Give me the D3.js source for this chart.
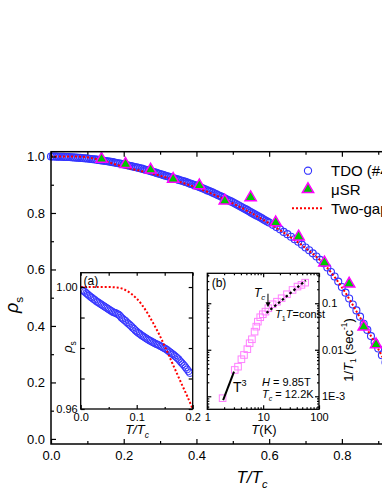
<!DOCTYPE html>
<html><head><meta charset="utf-8">
<script src="https://cdn.jsdelivr.net/npm/d3@7"></script>
<style>
html,body{margin:0;padding:0;background:#fff;}
svg{display:block;font-family:"Liberation Sans Narrow","Arial Narrow","Liberation Sans",Arial,sans-serif;}
</style></head><body><svg id="c" width="382" height="494"></svg>
<script>
// ---------------- DATA ----------------
// main panel: TDO superfluid density vs T/Tc
const tdoT = [0.00,0.01,0.02,0.03,0.04,0.05,0.06,0.07,0.08,0.09,
  0.10,0.11,0.12,0.13,0.14,0.15,0.16,0.17,0.18,0.19,
  0.20,0.21,0.22,0.23,0.24,0.25,0.26,0.27,0.28,0.29,
  0.30,0.31,0.32,0.33,0.34,0.35,0.36,0.37,0.38,0.39,
  0.40,0.41,0.42,0.43,0.44,0.45,0.46,0.47,0.48,0.49,
  0.50,0.51,0.52,0.53,0.54,0.55,0.56,0.57,0.58,0.59,
  0.60,0.61,0.62,0.63,0.64,0.65,0.66,0.67,0.68,0.69,
  0.70,0.71,0.72,0.73,0.74,0.75,0.76,0.77,0.78,0.79,
  0.80,0.81,0.82,0.83,0.84,0.85,0.86,0.87,0.88,0.89,
  0.90,0.91,0.92,0.93,0.94,0.95,0.96,0.97,0.98,0.99];
const tdoRho = [1.000,1.000,0.999,0.999,0.998,0.998,0.997,0.996,0.995,0.994,
  0.993,0.991,0.990,0.988,0.986,0.984,0.982,0.980,0.977,0.975,
  0.972,0.969,0.966,0.963,0.960,0.957,0.953,0.950,0.946,0.942,
  0.938,0.934,0.930,0.926,0.922,0.918,0.914,0.910,0.905,0.901,
  0.896,0.891,0.886,0.880,0.875,0.869,0.863,0.857,0.850,0.844,
  0.838,0.831,0.824,0.817,0.810,0.802,0.795,0.788,0.781,0.773,
  0.766,0.758,0.750,0.742,0.733,0.725,0.716,0.707,0.698,0.688,
  0.678,0.668,0.657,0.646,0.634,0.622,0.607,0.591,0.575,0.557,
  0.538,0.518,0.497,0.476,0.455,0.433,0.408,0.386,0.364,0.342,
  0.320,0.296,0.271,0.245,0.218,0.189,0.158,0.124,0.087,0.046];
// second (denser) low-T sweep of the TDO data
const tdoT2 = [0.005,0.015,0.025,0.035,0.045,0.055,0.065,0.075,0.085,0.095,
  0.105,0.115,0.125,0.135,0.145,0.155,0.165,0.175,0.185,0.195,
  0.205,0.215,0.225,0.235,0.245,0.255,0.265,0.275,0.285,0.295,
  0.305,0.315,0.325,0.335,0.345,0.355,0.365,0.375,0.385,0.395,
  0.405,0.415,0.425,0.435,0.445,0.455,0.465,0.475,0.485,0.495,
  0.505,0.515,0.525,0.535,0.545,0.555,0.565,0.575,0.585,0.595];
const tdoRho2 = [1.000,0.9995,0.999,0.9985,0.998,0.9975,0.9965,0.9955,0.9945,0.9935,
  0.992,0.9905,0.989,0.987,0.985,0.983,0.981,0.9785,0.976,0.9735,
  0.9705,0.9675,0.9645,0.9615,0.9585,0.955,0.9515,0.948,0.944,0.940,
  0.936,0.932,0.928,0.924,0.920,0.916,0.912,0.9075,0.903,0.8985,
  0.8935,0.8885,0.883,0.8775,0.872,0.866,0.860,0.8535,0.847,0.841,
  0.8345,0.8275,0.8205,0.8135,0.806,0.7985,0.7915,0.7845,0.777,0.7695];
// two-gap fit
const fitT = [0,0.05,0.08,0.10,0.12,0.14,0.16,0.18,0.20,0.25,0.30,0.35,0.40,0.45,0.50,0.55,0.60,0.65,0.70,0.75,0.80,0.85,0.90,0.95,1.0];
const fitRho = [1.000,1.000,0.9995,0.997,0.992,0.986,0.979,0.971,0.963,0.948,0.932,0.912,0.890,0.864,0.834,0.800,0.763,0.722,0.676,0.620,0.537,0.430,0.318,0.187,0.0];
// muSR
const musrT = [0.139,0.205,0.274,0.336,0.408,0.478,0.549,0.618,0.681,0.752,0.820,0.860,0.894];
const musrRho = [0.991,0.973,0.953,0.920,0.897,0.843,0.855,0.766,0.716,0.624,0.549,0.397,0.334];
const mainXTicks = [0,0.2,0.4,0.6,0.8];
const mainXMinor = [0.1,0.3,0.5,0.7,0.9];
const mainYTicks = [0,0.2,0.4,0.6,0.8,1.0];
const mainYMinor = [0.1,0.3,0.5,0.7,0.9];
const legendLabels = ["TDO (#4)","\u03bcSR","Two-gap fit"];

// inset (a): low-T zoom
const aT = [0.005,0.010,0.015,0.020,0.025,0.030,0.035,0.040,0.045,0.050,
  0.055,0.060,0.065,0.070,0.075,0.080,0.085,0.090,0.095,0.100,
  0.105,0.110,0.115,0.120,0.125,0.130,0.135,0.140,0.145,0.150,
  0.155,0.160,0.165,0.170,0.175,0.180,0.185,0.190,0.195];
const aRho = [0.9987,0.9980,0.9972,0.9965,0.9958,0.9951,0.9945,0.9939,0.9933,0.9927,
  0.9921,0.9916,0.9912,0.9906,0.9896,0.9889,0.9880,0.9872,0.9863,0.9854,
  0.9847,0.9840,0.9834,0.9828,0.9823,0.9818,0.9813,0.9809,0.9804,0.9799,
  0.9793,0.9786,0.9779,0.9771,0.9763,0.9752,0.9742,0.9730,0.9718];
const aT2 = [0.0025,0.0075,0.0125,0.0175,0.0225,0.0275,0.0325,0.0375,0.0425,0.0475,
  0.0525,0.0575,0.0625,0.0675,0.0725,0.0775,0.0825,0.0875,0.0925,0.0975,
  0.1025,0.1075,0.1125,0.1175,0.1225,0.1275,0.1325,0.1375,0.1425,0.1475,
  0.1525,0.1575,0.1625,0.1675,0.1725,0.1775,0.1825,0.1875,0.1925];
const aRho2 = [0.9990,0.9984,0.9976,0.9968,0.9961,0.9954,0.9948,0.9942,0.9936,0.9930,
  0.9924,0.9918,0.9915,0.9910,0.9900,0.9892,0.9884,0.9876,0.9867,0.9858,
  0.9850,0.9843,0.9837,0.9831,0.9825,0.9820,0.9815,0.9811,0.9806,0.9801,
  0.9796,0.9789,0.9782,0.9775,0.9767,0.9757,0.9747,0.9736,0.9724];
const aFitT = [0,0.01,0.02,0.03,0.04,0.05,0.06,0.07,0.08,0.09,0.10,0.11,0.12,0.13,0.14,0.15,0.16,0.17,0.18,0.19,0.20];
const aFitRho = [1.0000,1.0000,1.0000,1.0000,1.0000,1.0000,0.9999,0.9997,0.9990,0.9978,0.9962,0.9940,0.9912,0.9880,0.9845,0.9806,0.9765,0.9724,0.9683,0.9643,0.9600];
const aXTicks = [0,0.1,0.2];
const aXMinor = [0.05,0.15];
const aYTicks = [0.96,0.97,0.98,0.99,1.00];
const aYLabeled = [0.96,1.00];

// inset (b): NMR 1/T1 vs T
const nmrT = [1.88,3.10,3.55,4.08,4.54,5.21,5.73,6.29,7.02,7.53,8.04,8.87,9.86,11.0,12.4,14.8,17.7,21.4,26.7,33.6,41.2,48.5,56.5];
const nmrRate = [0.00091,0.00368,0.00433,0.00625,0.00773,0.0103,0.0138,0.0168,0.0245,0.0314,0.0402,0.050,0.058,0.066,0.078,0.095,0.108,0.128,0.156,0.193,0.228,0.248,0.277];
const t3LineT = [1.92,3.01];
const t3LineRate = [0.00083,0.00338];
const constLineT = [11.5,58];
const constLineRate = [0.062,0.31];
const tcArrowT = [12.2,12.2];
const tcArrowRate = [0.16,0.082];
const bXTicks = [1,10,100];
const bXMinor = [2,3,4,5,6,7,8,9,20,30,40,50,60,70,80,90];
const bYTicks = [0.001,0.01,0.1];
const bYLabels = ["1E-3","0.01","0.1"];
const bYMinor = [0.0006,0.0007,0.0008,0.0009,0.002,0.003,0.004,0.005,0.006,0.007,0.008,0.009,0.02,0.03,0.04,0.05,0.06,0.07,0.08,0.09,0.2,0.3,0.4];

// ---------------- DRAW ----------------
const svg = d3.select("#c");
svg.append("rect").attr("width",382).attr("height",494).attr("fill","#fff");

function rich(sel, parts, size){
  let shift = 0;
  parts.forEach(p=>{
    const ts = sel.append("tspan").text(p.t);
    const target = p.sub ? size*0.28 : (p.sup ? -size*0.42 : 0);
    if (target - shift !== 0) ts.attr("dy", target - shift);
    shift = target;
    if (p.sub || p.sup) ts.attr("font-size", size*0.65);
    if (p.it) ts.attr("font-style","italic");
  });
}
function styleAxis(g, size){
  g.select(".domain").remove();
  g.selectAll(".tick line").attr("stroke","#000").attr("stroke-width",1.2);
  g.selectAll(".tick text").attr("fill","#000").attr("font-size",size).attr("font-family",null);
}

// ----- main panel -----
const x = d3.scaleLinear().domain([0,1]).range([51,414.6]);
const y = d3.scaleLinear().domain([-0.018,1.017]).range([444,151.7]);
const [yb0,yb1] = y.domain();

const main = svg.append("g");
const tdoAll = tdoT.map((t,i)=>[t,tdoRho[i]]).concat(tdoT2.map((t,i)=>[t,tdoRho2[i]]));
main.selectAll("circle.tdo").data(tdoAll).join("circle")
  .attr("cx",d=>x(d[0])).attr("cy",d=>y(d[1])).attr("r",3.5)
  .attr("fill","none").attr("stroke","#3535ff").attr("stroke-width",1.1);
main.append("path").datum(fitT.map((t,i)=>[t,fitRho[i]]))
  .attr("d", d3.line().x(d=>x(d[0])).y(d=>y(d[1])).curve(d3.curveMonotoneX))
  .attr("fill","none").attr("stroke","#ff0000").attr("stroke-width",2).attr("stroke-dasharray","2,2");
const tri = d3.symbol(d3.symbolTriangle, 55);
main.selectAll("path.musr").data(musrT.map((t,i)=>[t,musrRho[i]])).join("path")
  .attr("d",tri).attr("transform",d=>`translate(${x(d[0])},${y(d[1])})`)
  .attr("fill","#00c800").attr("stroke","#ff00ff").attr("stroke-width",1.5);

// frame & axes
svg.append("rect").attr("x",x(0)).attr("y",y(yb1)).attr("width",x(1)-x(0)).attr("height",y(yb0)-y(yb1))
  .attr("fill","none").attr("stroke","#000").attr("stroke-width",1.5);
let ax = svg.append("g").attr("transform",`translate(0,${y(yb0)})`)
  .call(d3.axisBottom(x).tickValues(mainXTicks).tickFormat(d3.format(".1f")).tickSizeInner(-5).tickSizeOuter(0).tickPadding(7));
styleAxis(ax,13);
ax = svg.append("g").attr("transform",`translate(0,${y(yb0)})`)
  .call(d3.axisBottom(x).tickValues(mainXMinor).tickFormat("").tickSizeInner(-3).tickSizeOuter(0));
styleAxis(ax,13);
ax = svg.append("g").attr("transform",`translate(0,${y(yb1)})`)
  .call(d3.axisTop(x).tickValues(mainXTicks).tickFormat("").tickSizeInner(-5).tickSizeOuter(0));
styleAxis(ax,13);
ax = svg.append("g").attr("transform",`translate(0,${y(yb1)})`)
  .call(d3.axisTop(x).tickValues(mainXMinor).tickFormat("").tickSizeInner(-3).tickSizeOuter(0));
styleAxis(ax,13);
ax = svg.append("g").attr("transform",`translate(${x(0)},0)`)
  .call(d3.axisLeft(y).tickValues(mainYTicks).tickFormat(d3.format(".1f")).tickSizeInner(-5).tickSizeOuter(0).tickPadding(6));
styleAxis(ax,13);
ax = svg.append("g").attr("transform",`translate(${x(0)},0)`)
  .call(d3.axisLeft(y).tickValues(mainYMinor).tickFormat("").tickSizeInner(-3).tickSizeOuter(0));
styleAxis(ax,13);

// axis titles
rich(svg.append("text").attr("x",252).attr("y",483).attr("text-anchor","middle").attr("font-size",17),
  [{t:"T",it:true},{t:"/",it:true},{t:"T",it:true},{t:"c",it:true,sub:true}],17);
rich(svg.append("text").attr("transform","translate(18,305) rotate(-90)").attr("text-anchor","middle").attr("font-size",18),
  [{t:"\u03c1",it:true},{t:"s",sub:true}],18);

// legend
const lg = svg.append("g");
lg.append("circle").attr("cx",308).attr("cy",170.7).attr("r",3.6).attr("fill","none").attr("stroke","#3535ff").attr("stroke-width",1.1);
lg.append("path").attr("d",tri).attr("transform","translate(308,189.3)").attr("fill","#00c800").attr("stroke","#ff00ff").attr("stroke-width",1.5);
lg.append("line").attr("x1",292).attr("x2",323).attr("y1",208.3).attr("y2",208.3).attr("stroke","#ff0000").attr("stroke-width",2).attr("stroke-dasharray","2,2");
[176,195,213.5].forEach((yy,i)=>lg.append("text").attr("x",331).attr("y",yy).attr("font-size",15).attr("fill","#000").text(legendLabels[i]));

// ----- inset (a) -----
const xa = d3.scaleLinear().domain([0,0.2]).range([80.7,192.7]);
const ya = d3.scaleLinear().domain([0.96,1.0047]).range([409,272.7]);
const [ya0,ya1] = ya.domain();
svg.append("rect").attr("x",xa(0)).attr("y",ya(ya1)).attr("width",xa(0.2)-xa(0)).attr("height",ya(ya0)-ya(ya1)).attr("fill","#fff");
svg.append("clipPath").attr("id","clipA").append("rect").attr("x",xa(0)).attr("y",ya(ya1)).attr("width",xa(0.2)-xa(0)).attr("height",ya(ya0)-ya(ya1));
const ga = svg.append("g").attr("clip-path","url(#clipA)");
const aAll = aT.map((t,i)=>[t,aRho[i]]).concat(aT2.map((t,i)=>[t,aRho2[i]]));
ga.selectAll("circle").data(aAll).join("circle")
  .attr("cx",d=>xa(d[0])).attr("cy",d=>ya(d[1])).attr("r",3.5)
  .attr("fill","none").attr("stroke","#3535ff").attr("stroke-width",1);
ga.append("path").datum(aFitT.map((t,i)=>[t,aFitRho[i]]))
  .attr("d", d3.line().x(d=>xa(d[0])).y(d=>ya(d[1])).curve(d3.curveMonotoneX))
  .attr("fill","none").attr("stroke","#ff0000").attr("stroke-width",2).attr("stroke-dasharray","2,2");
svg.append("rect").attr("x",xa(0)).attr("y",ya(ya1)).attr("width",xa(0.2)-xa(0)).attr("height",ya(ya0)-ya(ya1))
  .attr("fill","none").attr("stroke","#000").attr("stroke-width",1.3);
ax = svg.append("g").attr("transform",`translate(0,${ya(ya0)})`)
  .call(d3.axisBottom(xa).tickValues(aXTicks).tickFormat(d3.format(".1f")).tickSizeInner(-4).tickSizeOuter(0).tickPadding(4));
styleAxis(ax,11);
ax = svg.append("g").attr("transform",`translate(0,${ya(ya0)})`)
  .call(d3.axisBottom(xa).tickValues(aXMinor).tickFormat("").tickSizeInner(-2).tickSizeOuter(0));
styleAxis(ax,11);
ax = svg.append("g").attr("transform",`translate(0,${ya(ya1)})`)
  .call(d3.axisTop(xa).tickValues(aXTicks.concat(aXMinor)).tickFormat("").tickSizeInner(-3).tickSizeOuter(0));
styleAxis(ax,11);
ax = svg.append("g").attr("transform",`translate(${xa(0)},0)`)
  .call(d3.axisLeft(ya).tickValues(aYTicks).tickFormat(d=>aYLabeled.some(v=>Math.abs(v-d)<1e-9)?d3.format(".2f")(d):"").tickSizeInner(-4).tickSizeOuter(0).tickPadding(3));
styleAxis(ax,11);
ax = svg.append("g").attr("transform",`translate(${xa(0.2)},0)`)
  .call(d3.axisRight(ya).tickValues(aYTicks).tickFormat("").tickSizeInner(-4).tickSizeOuter(0));
styleAxis(ax,11);
svg.append("text").attr("x",83.5).attr("y",285).attr("font-size",12).text("(a)");
rich(svg.append("text").attr("transform","translate(72,347) rotate(-90)").attr("text-anchor","middle").attr("font-size",13),
  [{t:"\u03c1",it:true},{t:"s",sub:true}],13);
rich(svg.append("text").attr("x",137).attr("y",434).attr("text-anchor","middle").attr("font-size",13),
  [{t:"T",it:true},{t:"/",it:true},{t:"T",it:true},{t:"c",it:true,sub:true}],13);

// ----- inset (b) -----
const xb = d3.scaleLog().domain([1,100]).range([207.3,319]);
const yb = d3.scaleLog().domain([5.25e-4,0.44]).range([409.3,273.3]);
const [yl0,yl1] = yb.domain();
svg.append("rect").attr("x",xb(1)).attr("y",yb(yl1)).attr("width",xb(100)-xb(1)).attr("height",yb(yl0)-yb(yl1)).attr("fill","#fff");
const gb = svg.append("g");
gb.selectAll("rect.sq").data(nmrT.map((t,i)=>[t,nmrRate[i]])).join("rect")
  .attr("x",d=>xb(d[0])-3.3).attr("y",d=>yb(d[1])-3.3).attr("width",6.6).attr("height",6.6)
  .attr("fill","none").attr("stroke","#ff80ff").attr("stroke-width",1);
gb.append("path").datum(t3LineT.map((t,i)=>[t,t3LineRate[i]]))
  .attr("d",d3.line().x(d=>xb(d[0])).y(d=>yb(d[1]))).attr("stroke","#000").attr("stroke-width",2).attr("fill","none");
gb.append("path").datum(constLineT.map((t,i)=>[t,constLineRate[i]]))
  .attr("d",d3.line().x(d=>xb(d[0])).y(d=>yb(d[1]))).attr("stroke","#000").attr("stroke-width",2.2).attr("fill","none").attr("stroke-dasharray","2.5,2.5");
const ax0=xb(tcArrowT[0]), ay0=yb(tcArrowRate[0]), ay1=yb(tcArrowRate[1]);
gb.append("line").attr("x1",ax0).attr("x2",ax0).attr("y1",ay0).attr("y2",ay1-4).attr("stroke","#000").attr("stroke-width",1);
gb.append("path").attr("d",`M${ax0-2.5},${ay1-5}L${ax0+2.5},${ay1-5}L${ax0},${ay1}Z`).attr("fill","#000");
svg.append("rect").attr("x",xb(1)).attr("y",yb(yl1)).attr("width",xb(100)-xb(1)).attr("height",yb(yl0)-yb(yl1))
  .attr("fill","none").attr("stroke","#000").attr("stroke-width",1.3);
ax = svg.append("g").attr("transform",`translate(0,${yb(yl0)})`)
  .call(d3.axisBottom(xb).tickValues(bXTicks).tickFormat(d3.format("d")).tickSizeInner(-4).tickSizeOuter(0).tickPadding(4));
styleAxis(ax,11);
ax = svg.append("g").attr("transform",`translate(0,${yb(yl0)})`)
  .call(d3.axisBottom(xb).tickValues(bXMinor).tickFormat("").tickSizeInner(-2).tickSizeOuter(0));
styleAxis(ax,11);
ax = svg.append("g").attr("transform",`translate(0,${yb(yl1)})`)
  .call(d3.axisTop(xb).tickValues(bXTicks).tickFormat("").tickSizeInner(-4).tickSizeOuter(0));
styleAxis(ax,11);
ax = svg.append("g").attr("transform",`translate(0,${yb(yl1)})`)
  .call(d3.axisTop(xb).tickValues(bXMinor).tickFormat("").tickSizeInner(-2).tickSizeOuter(0));
styleAxis(ax,11);
ax = svg.append("g").attr("transform",`translate(${xb(1)},0)`)
  .call(d3.axisLeft(yb).tickValues(bYTicks).tickFormat("").tickSizeInner(-4).tickSizeOuter(0));
styleAxis(ax,11);
ax = svg.append("g").attr("transform",`translate(${xb(1)},0)`)
  .call(d3.axisLeft(yb).tickValues(bYMinor).tickFormat("").tickSizeInner(-2).tickSizeOuter(0));
styleAxis(ax,11);
ax = svg.append("g").attr("transform",`translate(${xb(100)},0)`)
  .call(d3.axisRight(yb).tickValues(bYTicks).tickFormat((d,i)=>bYLabels[i]).tickSizeInner(-4).tickSizeOuter(0).tickPadding(3));
styleAxis(ax,11);
ax = svg.append("g").attr("transform",`translate(${xb(100)},0)`)
  .call(d3.axisRight(yb).tickValues(bYMinor).tickFormat("").tickSizeInner(-2).tickSizeOuter(0));
styleAxis(ax,11);
svg.append("text").attr("x",211.7).attr("y",287).attr("font-size",12).text("(b)");
rich(svg.append("text").attr("x",254).attr("y",297).attr("font-size",12),[{t:"T",it:true},{t:"c",it:true,sub:true}],12);
rich(svg.append("text").attr("x",275).attr("y",318).attr("font-size",11),[{t:"T",it:true},{t:"1",sub:true},{t:"T",it:true},{t:"=const"}],11);
rich(svg.append("text").attr("x",233).attr("y",392).attr("font-size",14),[{t:"T"},{t:"3",sup:true}],14);
rich(svg.append("text").attr("x",262).attr("y",386).attr("font-size",11),[{t:"H",it:true},{t:" = 9.85T"}],11);
rich(svg.append("text").attr("x",262).attr("y",398).attr("font-size",11),[{t:"T",it:true},{t:"c",it:true,sub:true},{t:" = 12.2K"}],11);
rich(svg.append("text").attr("x",264).attr("y",434).attr("text-anchor","middle").attr("font-size",13),[{t:"T",it:true},{t:"(K)"}],13);
rich(svg.append("text").attr("transform","translate(352.5,350) rotate(-90)").attr("text-anchor","middle").attr("font-size",13),
  [{t:"1/"},{t:"T",it:true},{t:"1",sub:true},{t:" (sec"},{t:"-1",sup:true},{t:")"}],13);
</script></body></html>
